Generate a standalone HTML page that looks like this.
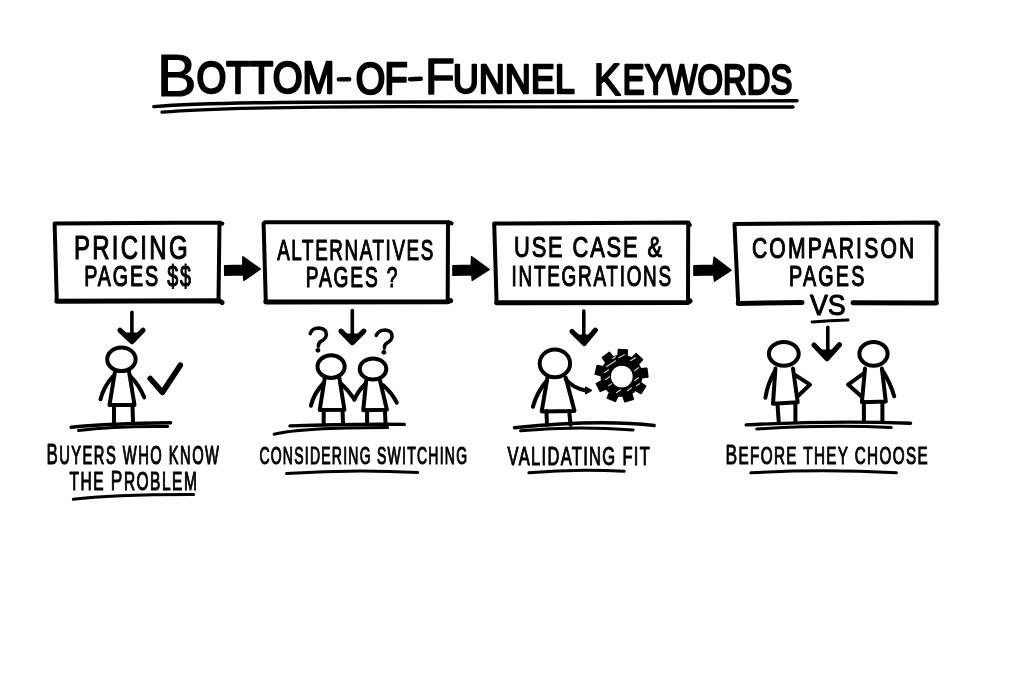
<!DOCTYPE html>
<html><head><meta charset="utf-8">
<style>
html,body{margin:0;padding:0;background:#fefefe;}
body{width:1024px;height:683px;overflow:hidden;}
svg{display:block;will-change:transform;}
text{font-family:"Liberation Sans",sans-serif;fill:#000;}
.s{fill:none;stroke:#000;stroke-linecap:round;stroke-linejoin:round;}
</style></head>
<body>
<svg width="1024" height="683" viewBox="0 0 1024 683">
<rect width="1024" height="683" fill="#fefefe"/>

<!-- title underline -->
<g class="s">
<path stroke-width="3.4" d="M153.8 106.6 Q215 101.6 400 102 L797 100.8"/>
<path stroke-width="3.3" d="M162 112.2 Q225 107 400 106.7 L793 107"/>
</g>

<!-- BOXES -->
<g class="s" stroke-width="4">
<path d="M54.6 223.5 L219.5 222.5 L222.3 223.6 M219.5 222.5 L218.5 301 M54.6 223.5 L56.8 301"/>
<path stroke-width="5" d="M56.8 301.2 L219.5 300.8 L222 302.5"/>
<path d="M263.6 223.7 Q264 222.2 266 222.2 L448 221.9 L451.6 223.4 M448 221.9 L447.7 301.7 M263.6 223.7 L265.8 302"/>
<path stroke-width="5" d="M265.8 302 L447.7 301.7 L450.6 300.6"/>
<path d="M494.2 223.5 L688.2 222.4 L689.8 225 M688.2 222.4 L688 302.4 M494.2 223.5 L496.6 302.8"/>
<path stroke-width="5" d="M496.6 302.8 L688 302.4 L690 301"/>
<path d="M734.5 224 L936.5 222.6 L938.2 224.5 M936.5 222.6 L936.4 303 M734.5 224 L738.2 303.4"/>
<path stroke-width="5" d="M738.2 303.4 L802 302.6 M853 302.8 L936.4 303"/>
</g>

<!-- TEXTS -->
<path class="s" stroke-width="4.4" d="M338.8 79.4 L349.2 79.2 M410 79.2 L420.8 78.8"/>
<text transform="translate(156.90 95.90) scale(1.0006 1)" font-size="59.19" font-weight="normal" stroke="#000" stroke-width="1.2" stroke-linejoin="round" vector-effect="non-scaling-stroke">B</text>
<text transform="translate(196.40 93.35) scale(0.8509 1)" font-size="45.11" font-weight="normal" textLength="162.38" lengthAdjust="spacing" stroke="#000" stroke-width="2.3" stroke-linejoin="round" vector-effect="non-scaling-stroke">OTTOM</text>
<text transform="translate(355.80 93.85) scale(0.8661 1)" font-size="43.73" font-weight="normal" textLength="59.74" lengthAdjust="spacing" stroke="#000" stroke-width="2.3" stroke-linejoin="round" vector-effect="non-scaling-stroke">OF</text>
<text transform="translate(425.10 93.70) scale(0.9638 1)" font-size="50.57" font-weight="normal" stroke="#000" stroke-width="1.6" stroke-linejoin="round" vector-effect="non-scaling-stroke">F</text>
<text transform="translate(453.00 92.85) scale(0.8888 1)" font-size="40.02" font-weight="normal" textLength="136.98" lengthAdjust="spacing" stroke="#000" stroke-width="2.3" stroke-linejoin="round" vector-effect="non-scaling-stroke">UNNEL</text>
<text transform="translate(593.75 95.10) scale(0.8997 1)" font-size="45.21" font-weight="normal" stroke="#000" stroke-width="1.8" stroke-linejoin="round" vector-effect="non-scaling-stroke">K</text>
<text transform="translate(622.80 93.85) scale(0.7741 1)" font-size="42.29" font-weight="normal" textLength="218.89" lengthAdjust="spacing" stroke="#000" stroke-width="2.3" stroke-linejoin="round" vector-effect="non-scaling-stroke">EYWORDS</text>
<text transform="translate(73.90 258.50) scale(0.7223 1)" font-size="33.25" font-weight="normal" textLength="157.40" lengthAdjust="spacing" stroke="#000" stroke-width="1.0" stroke-linejoin="round" vector-effect="non-scaling-stroke">PRICING</text>
<text transform="translate(84.30 286.00) scale(0.6801 1)" font-size="28.99" font-weight="normal" textLength="156.93" lengthAdjust="spacing" stroke="#000" stroke-width="1.0" stroke-linejoin="round" vector-effect="non-scaling-stroke">PAGES $$</text>
<text transform="translate(277.20 259.50) scale(0.6457 1)" font-size="29.12" font-weight="normal" textLength="241.74" lengthAdjust="spacing" stroke="#000" stroke-width="1.0" stroke-linejoin="round" vector-effect="non-scaling-stroke">ALTERNATIVES</text>
<text transform="translate(305.80 286.50) scale(0.6585 1)" font-size="29.12" font-weight="normal" textLength="139.16" lengthAdjust="spacing" stroke="#000" stroke-width="1.0" stroke-linejoin="round" vector-effect="non-scaling-stroke">PAGES ?</text>
<text transform="translate(514.00 257.00) scale(0.7350 1)" font-size="29.73" font-weight="normal" textLength="201.37" lengthAdjust="spacing" stroke="#000" stroke-width="1.0" stroke-linejoin="round" vector-effect="non-scaling-stroke">USE CASE &amp;</text>
<text transform="translate(511.50 285.50) scale(0.6370 1)" font-size="29.73" font-weight="normal" textLength="250.60" lengthAdjust="spacing" stroke="#000" stroke-width="1.0" stroke-linejoin="round" vector-effect="non-scaling-stroke">INTEGRATIONS</text>
<text transform="translate(751.90 258.00) scale(0.7071 1)" font-size="29.85" font-weight="normal" textLength="229.59" lengthAdjust="spacing" stroke="#000" stroke-width="1.0" stroke-linejoin="round" vector-effect="non-scaling-stroke">COMPARISON</text>
<text transform="translate(789.10 286.00) scale(0.6818 1)" font-size="28.98" font-weight="normal" textLength="110.37" lengthAdjust="spacing" stroke="#000" stroke-width="1.0" stroke-linejoin="round" vector-effect="non-scaling-stroke">PAGES</text>
<text transform="translate(810.00 315.00) scale(0.9237 1)" font-size="29.03" font-weight="normal" textLength="38.69" lengthAdjust="spacing" stroke="#000" stroke-width="1.0" stroke-linejoin="round" vector-effect="non-scaling-stroke">VS</text>
<text transform="translate(46.40 464.05) scale(0.5883 1)" font-size="25.05" font-weight="normal" textLength="293.42" lengthAdjust="spacing" stroke="#000" stroke-width="0.9" stroke-linejoin="round" vector-effect="non-scaling-stroke"><tspan font-size="28.81">B</tspan>UYERS WHO KNOW</text>
<text transform="translate(69.60 489.55) scale(0.6189 1)" font-size="25.05" font-weight="normal" textLength="205.53" lengthAdjust="spacing" stroke="#000" stroke-width="0.9" stroke-linejoin="round" vector-effect="non-scaling-stroke">THE <tspan font-size="28.05">P</tspan>ROBLEM</text>
<text transform="translate(259.40 464.05) scale(0.5997 1)" font-size="23.34" font-weight="normal" textLength="346.21" lengthAdjust="spacing" stroke="#000" stroke-width="0.9" stroke-linejoin="round" vector-effect="non-scaling-stroke">CONSIDERING SWITCHING</text>
<text transform="translate(507.60 464.55) scale(0.6490 1)" font-size="25.42" font-weight="normal" textLength="219.13" lengthAdjust="spacing" stroke="#000" stroke-width="0.9" stroke-linejoin="round" vector-effect="non-scaling-stroke">VALIDATING FIT</text>
<text transform="translate(725.40 463.55) scale(0.6548 1)" font-size="23.29" font-weight="normal" textLength="308.97" lengthAdjust="spacing" stroke="#000" stroke-width="0.9" stroke-linejoin="round" vector-effect="non-scaling-stroke"><tspan font-size="26.78">B</tspan>EFORE THEY CHOOSE</text>
<path class="s" stroke-width="3" d="M812.1 322 Q830 320.6 848 320.1"/>

<!-- block arrows -->
<g fill="#000" stroke="#000" stroke-width="1.2" stroke-linejoin="round">
<path d="M224.5 265.6 L242.6 265.2 L242.8 256.5 L260.4 269.1 L243.9 280.6 L243.2 274.8 L224.6 275.3 Z"/>
<path d="M452.8 265.6 L471 265.2 L471.5 256.6 L489.4 269.5 L472.2 280.6 L471.6 274.8 L452.8 275.3 Z"/>
<path d="M693.8 265.6 L713 265.2 L714 257 L731.3 270.2 L714.4 281.3 L713.6 275 L693.8 275.3 Z"/>
</g>

<!-- down arrows -->
<g class="s" stroke-width="3.6">
<path d="M131.9 312.2 L131.9 340"/>
<path d="M352.3 310.6 L352.3 341"/>
<path d="M583.8 311 L583.8 342"/>
<path d="M827.8 327.3 L827.8 357"/>
</g>
<g class="s" stroke-width="5.2" stroke-linejoin="miter" stroke-miterlimit="10">
<path d="M120 330.3 L131.9 341.6 L143 330.3"/>
<path d="M341 331.2 L352.3 342.6 L363.8 331.2"/>
<path d="M572 331.5 L584.2 343.4 L595.3 330.2"/>
<path d="M814 345 L827.1 358.6 L839.4 344.8"/>
</g>

<g fill="#000">
<path d="M124.9 332.6 L131.9 341.6 L138.9 332.6 Z"/>
<path d="M345.3 333.6 L352.3 342.6 L359.3 333.6 Z"/>
<path d="M577.2 334.4 L584.2 343.4 L591.2 334.4 Z"/>
<path d="M820.1 349.6 L827.1 358.6 L834.1 349.6 Z"/>
</g>
<!-- FIGURE 1 -->
<g class="s" stroke-width="4">
<ellipse cx="121.4" cy="359.3" rx="14.2" ry="11.8"/>
<path d="M115 371.5 L109.5 405 L134.5 405 L129 371.5"/>
<path d="M113 376.4 Q104 386 100.5 399.3"/>
<path d="M130.5 376.4 Q139 385 144.3 397.4"/>
<path d="M114 405 L114 422 M132.5 405 L133 422"/>
<path stroke-width="3.4" d="M71.2 427.2 Q110 423.3 170.6 422.7"/>
<path stroke-width="3" d="M78.5 430.5 Q115 426 167.8 426.6"/>
<path stroke-width="5.6" d="M150.2 378.5 L162.4 392.4 L180.3 365.2"/>
</g>

<!-- FIGURE 2 -->
<g class="s" stroke-width="4">
<ellipse cx="331.1" cy="366.6" rx="13.6" ry="11.3"/>
<path d="M324.7 378.5 L319.7 410 L344.4 409.7 L339.5 378.5"/>
<path d="M323.7 383 Q314 393 310.9 405.7"/>
<path d="M340.5 383 Q348 390 353.3 397.8"/>
<path d="M365.2 384 Q358 391 354.3 399.8"/>
<ellipse cx="373" cy="369" rx="13.3" ry="10.6"/>
<path d="M366.2 380.5 L363.2 410.3 L386.9 409.7 L380 380.5"/>
<path d="M382.9 385 Q392 393 396.8 402.7"/>
<path d="M323.7 410 L323.7 423 M342.5 410 L343 423 M367.1 410 L367.1 423 M384.9 410 L385.5 423"/>
<path stroke-width="3.4" d="M290 425.9 Q350 423.8 404.3 424.4"/>
<path stroke-width="3" d="M274.1 434.2 Q300 427.5 387.6 427.4"/>
<path stroke-width="3.5" d="M310.2 333.6 Q312 328 318.8 328 Q326.4 328.5 326.4 334.6 Q326 339 321 341.2 Q318.3 343 318.4 346.2"/>
<path stroke-width="3.5" d="M376.2 335.5 Q378.5 330 385 330 Q392.3 330.5 392.1 336.5 Q391.5 341 386.7 343.2 Q384.2 345 384.4 348.2"/>
</g>
<circle cx="317.9" cy="350.3" r="2.4" fill="#000"/>
<circle cx="383.9" cy="352.3" r="2.4" fill="#000"/>

<!-- FIGURE 3 -->
<g class="s" stroke-width="4">
<ellipse cx="554.9" cy="363.4" rx="15.2" ry="13.8"/>
<path d="M547.5 377.5 L541.7 411.4 L574.5 410.9 L565.7 377.5"/>
<path d="M547 380.4 Q537 392 532.9 406.8"/>
<path d="M565.7 379.2 Q573 388 586 390.6"/>
<path d="M546.4 411 L547 425 M569.2 411 L570.6 425"/>
<path stroke-width="3.4" d="M514.4 427.7 Q600 419 654.2 425.5"/>
<path stroke-width="3" d="M520.6 430.8 Q575 425.5 633.1 430"/>
</g>
<path fill="#000" stroke="#000" stroke-width="1" stroke-linejoin="round" d="M585.6 386.8 L592 390.4 L585.6 394 Z"/>
<!-- gear -->
<g transform="translate(621.5 375.7)">
<path id="gear" fill="#000" fill-rule="evenodd" stroke="#000" stroke-width="1.5" stroke-linejoin="round" d="M-5.93 -19.41 L-3.53 -19.99 L-3.03 -26.23 L5.76 -25.76 L5.60 -19.51 L7.94 -18.68 L10.15 -17.58 L14.53 -22.04 L20.97 -16.03 L16.83 -11.35 L18.09 -9.21 L19.08 -6.94 L25.30 -7.54 L26.37 1.20 L20.19 2.12 L19.78 4.57 L19.08 6.94 L24.23 10.48 L19.43 17.87 L14.10 14.60 L12.21 16.21 L10.15 17.58 L11.82 23.61 L3.40 26.18 L1.42 20.25 L-1.07 20.27 L-3.53 19.99 L-6.12 25.68 L-14.22 22.24 L-11.93 16.42 L-13.85 14.84 L-15.55 13.05 L-21.19 15.74 L-25.19 7.89 L-19.70 4.91 L-20.15 2.47 L-20.30 0.00 L-26.35 -1.57 L-24.37 -10.15 L-18.25 -8.90 L-17.02 -11.06 L-15.55 -13.05 L-19.18 -18.14 L-12.15 -23.44 L-8.26 -18.54 Z M11.90 0.8 A11.6 11.6 0 1 0 -11.30 0.8 A11.6 11.6 0 1 0 11.90 0.8 Z"/>
<g stroke="#fefefe" stroke-width="1.1" stroke-linecap="round" opacity="0.8">
<path d="M-15 -9 L-6 -15 M-17 -3 L-13 -6 M-16 4 L-12 1 M-13 10 L-10 8 M-3 -18 L3 -21 M9 -15 L14 -18 M13 -5 L17 -8 M13 5 L17 2 M6 15 L10 12 M-5 17 L-1 14 M-9 -17 L-6 -19 M15 10 L18 8"/>
</g>
</g>

<!-- FIGURE 4 -->
<g class="s" stroke-width="4">
<ellipse cx="783.8" cy="353.8" rx="14.9" ry="11.9"/>
<path d="M775.4 368.5 L773 403.8 L797.7 402.3 L793 368.5"/>
<path d="M774.6 371.5 Q767.5 384 765.4 397.7"/>
<path d="M794.6 374.6 L810 384.6 L797.7 396.2"/>
<path d="M777.5 404 L778.7 421.4 M795.4 404 L795.4 421.4"/>
<ellipse cx="873.5" cy="353.8" rx="14.1" ry="11.9"/>
<path d="M865 368.5 L861.9 402.3 L885.8 401.5 L881.9 368.5"/>
<path d="M864.2 373 L848.1 384.6 L861.2 396.2"/>
<path d="M882.7 370.8 Q890.5 383 894.2 396.2"/>
<path d="M863.9 402 L863.9 421.4 M882.4 402 L882.4 421.4"/>
<path stroke-width="3.4" d="M746.2 424.9 Q830 420.5 910.5 423.2"/>
<path stroke-width="3" d="M756.7 429 Q830 424.5 891.2 427.6"/>
</g>

<!-- caption underlines -->
<g class="s" stroke-width="3">
<path d="M73.4 499.3 Q110 494.3 193.6 494.4"/>
<path d="M286.5 473.6 Q352 469 417.7 472.5"/>
<path d="M528.9 472.8 Q575 468.5 624.2 471.3"/>
<path d="M750.8 472.8 Q823 468.8 896.4 472.8"/>
</g>
</svg>
</body></html>
